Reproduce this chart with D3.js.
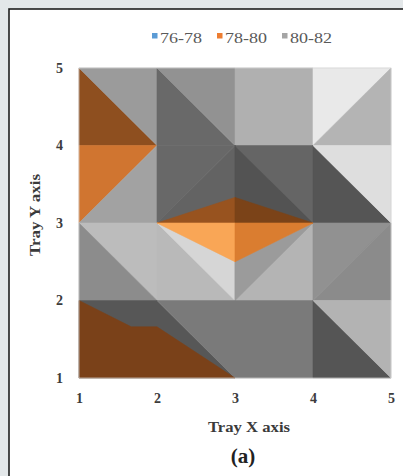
<!DOCTYPE html>
<html>
<head>
<meta charset="utf-8">
<script src="https://cdn.jsdelivr.net/npm/d3@7/dist/d3.min.js"></script>
<style>
  html, body { margin: 0; padding: 0; background: #e3e7e9; }
  svg { display: block; }
  text { font-family: "Liberation Serif", "DejaVu Serif", serif; }
</style>
</head>
<body>
<svg id="chart" width="403" height="476"></svg>
<script>
// ---------- DATA ----------
const xTicks = [1, 2, 3, 4, 5];
const yTicks = [1, 2, 3, 4, 5];
const bands = ["76-78", "78-80", "80-82"];

// Surface facets in tray coordinates (x, y) and the value band each belongs to
const facetPoints = [
  [[1,5],[1,4],[2,4]],
  [[1,5],[2,5],[2,4]],
  [[2,5],[2,4],[3,4]],
  [[2,5],[3,5],[3,4]],
  [[3,5],[4,5],[4,4],[3,4]],
  [[4,5],[5,5],[4,4]],
  [[5,5],[5,4],[4,4]],
  [[1,4],[2,4],[1,3]],
  [[2,4],[2,3],[1,3]],
  [[2,4],[3,4],[2,3]],
  [[3,4],[3,3],[2,3]],
  [[3,4],[4,4],[4,3]],
  [[3,4],[3,3],[4,3]],
  [[4,4],[4,3],[5,3]],
  [[4,4],[5,4],[5,3]],
  [[1,3],[2,3],[2,2]],
  [[1,3],[1,2],[2,2]],
  [[2,3],[3,3],[3,2],[2,2]],
  [[2,3],[3,2.5],[3,2]],
  [[3,3],[4,3],[4,2],[3,2]],
  [[3,2.5],[4,3],[3,2]],
  [[4,3],[5,3],[4,2]],
  [[5,3],[5,2],[4,2]],
  [[2,3],[3,3.33],[3,3]],
  [[3,3.33],[4,3],[3,3]],
  [[2,3],[3,3],[3,2.5]],
  [[3,3],[4,3],[3,2.5]],
  [[1,2],[2,2],[3,1],[1,1]],
  [[2,2],[4,2],[4,1],[3,1]],
  [[1,2],[1.67,1.66],[2,1.66],[3,1],[1,1]],
  [[4,2],[4,1],[5,1]],
  [[4,2],[5,2],[5,1]]
];
const facetBand = [
  "78-80","80-82","80-82","80-82","80-82","80-82","80-82",
  "78-80","80-82","80-82","80-82","80-82","80-82","80-82","80-82",
  "80-82","80-82","80-82","80-82","80-82","80-82","80-82","80-82",
  "78-80","78-80","78-80","78-80",
  "80-82","80-82","78-80","80-82","80-82"
];

// ---------- STYLES ----------
const bandColors = { "76-78": "#5b9bd5", "78-80": "#ed7d31", "80-82": "#a5a5a5" };
// lit (shaded) colour of every facet, as rendered by the surface lighting
const facetShade = [
  "#8e4f1f","#9b9b9b","#696969","#929292","#b0b0b0","#e9e9e9","#b4b4b4",
  "#d07530","#a2a2a2","#686868","#636363","#656565","#535353","#555555","#dedede",
  "#bcbcbc","#8c8c8c","#b9b9b9","#d6d6d6","#b4b4b4","#9b9b9b","#919191","#8b8b8b",
  "#98531f","#7b4318","#f9a656","#da7d30",
  "#575757","#7a7a7a","#7a4119","#555555","#b3b3b3"
];

const svg = d3.select("#chart");

// card
svg.append("rect")
  .attr("x", 9).attr("y", 9).attr("width", 440).attr("height", 520)
  .attr("fill", "#ffffff").attr("stroke", "#1e1e1e").attr("stroke-width", 1.6);

const x = d3.scaleLinear().domain([1, 5]).range([79, 391]);
const y = d3.scaleLinear().domain([1, 5]).range([378, 68]);

const line = d3.line().x(d => x(d[0])).y(d => y(d[1]));

const plot = svg.append("g");
plot.selectAll("path.facet")
  .data(facetPoints)
  .join("path")
  .attr("class", "facet")
  .attr("d", d => line(d) + "Z")
  .attr("fill", (d, i) => facetShade[i])
  .attr("stroke", (d, i) => facetShade[i])
  .attr("stroke-width", 0.6)
  .attr("stroke-linejoin", "round");

plot.append("rect")
  .attr("x", x(1)).attr("y", y(5))
  .attr("width", x(5) - x(1)).attr("height", y(1) - y(5))
  .attr("fill", "none").attr("stroke", "#d4d4d4").attr("stroke-width", 0.7);

// axes
const yAxis = d3.axisLeft(y).tickValues(yTicks).tickSize(0).tickPadding(16).tickFormat(d3.format("d"));
const xAxis = d3.axisBottom(x).tickValues(xTicks).tickSize(0).tickPadding(15).tickFormat(d3.format("d"));

const gy = svg.append("g").attr("transform", `translate(${x(1)},0)`).call(yAxis);
const gx = svg.append("g").attr("transform", `translate(0,${y(1)})`).call(xAxis);
[gx, gy].forEach(g => {
  g.select(".domain").remove();
  g.selectAll("text")
    .attr("fill", "#3c3c3c")
    .style("font-family", "'Liberation Serif', serif")
    .style("font-size", "14px")
    .style("font-weight", "bold");
});

// axis titles
svg.append("text")
  .attr("x", 249).attr("y", 432)
  .attr("text-anchor", "middle")
  .attr("fill", "#3a3a3a")
  .style("font-size", "15px").style("font-weight", "bold")
  .attr("textLength", 82).attr("lengthAdjust", "spacingAndGlyphs")
  .text("Tray X axis");

svg.append("text")
  .attr("transform", "translate(40,215) rotate(-90)")
  .attr("text-anchor", "middle")
  .attr("fill", "#3a3a3a")
  .style("font-size", "15px").style("font-weight", "bold")
  .attr("textLength", 82).attr("lengthAdjust", "spacingAndGlyphs")
  .text("Tray Y axis");

svg.append("text")
  .attr("x", 243).attr("y", 463)
  .attr("text-anchor", "middle")
  .attr("fill", "#222222")
  .style("font-size", "21px").style("font-weight", "bold")
  .text("(a)");

// legend
const legend = svg.append("g");
const items = legend.selectAll("g").data(bands).join("g")
  .attr("transform", (d, i) => `translate(${152 + i * 65},0)`);
items.append("rect")
  .attr("x", 0).attr("y", 33).attr("width", 5.5).attr("height", 5.5)
  .attr("fill", d => bandColors[d]);
items.append("text")
  .attr("x", 8).attr("y", 43)
  .attr("fill", "#595959")
  .style("font-size", "14px")
  .attr("textLength", 42).attr("lengthAdjust", "spacingAndGlyphs")
  .text(d => d);
</script>
</body>
</html>
